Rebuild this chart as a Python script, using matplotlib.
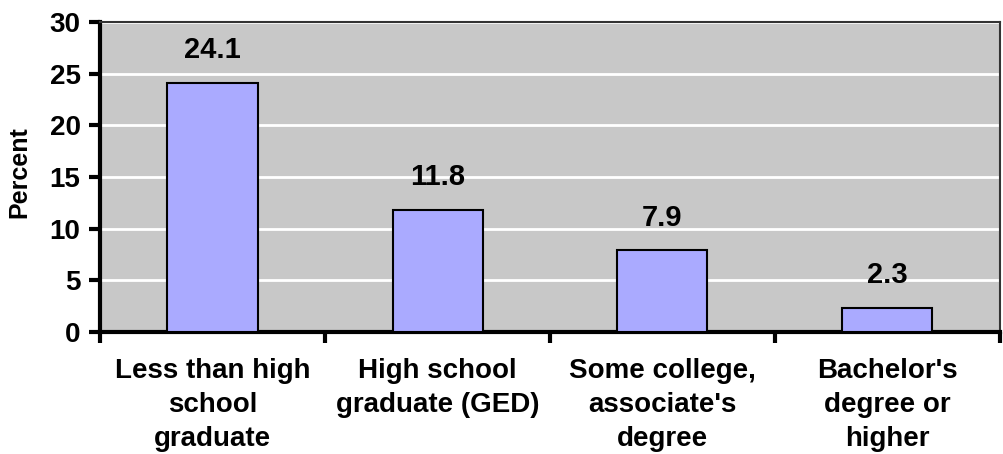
import matplotlib
matplotlib.use("Agg")
import numpy as np
import matplotlib.pyplot as plt

# Data
categories = ["Less than high\nschool\ngraduate", "High school\ngraduate (GED)",
              "Some college,\nassociate's\ndegree", "Bachelor's\ndegree or\nhigher"]
values = [24.1, 11.8, 7.9, 2.3]
yticks = [0, 5, 10, 15, 20, 25, 30]

plt.rcParams['font.family'] = ['Liberation Sans', 'DejaVu Sans']
plt.rcParams['font.weight'] = 'bold'

fig = plt.figure(figsize=(10.04, 4.54), dpi=100)
ax = fig.add_axes([100/1004, 1 - 332/454, 900/1004, 310/454])
ax.set_facecolor("#C8C8C8")

x = np.arange(len(values))
ax.bar(x, values, width=0.4, color="#AAAAFF", edgecolor="black", linewidth=1.5, zorder=3)
for xi, v in zip(x, values):
    ax.text(xi, v + 2.4, f"{v}", ha="center", va="baseline", fontsize=21, fontweight="bold")

ax.set_xlim(-0.5, len(values) - 0.5)
ax.set_ylim(0, 30)
ax.set_yticks(yticks)
ax.yaxis.grid(True, color="white", linewidth=2, zorder=0)
ax.set_axisbelow(True)

# category tick marks at the boundaries, labels centred under bars
ax.set_xticks(np.arange(len(values) + 1) - 0.5)
ax.set_xticklabels([])
ax.set_xticks(x, minor=True)
ax.set_xticklabels(categories, minor=True, fontsize=20, fontweight="bold", linespacing=1.38)
ax.tick_params(axis="x", which="minor", length=0, pad=19)
ax.tick_params(axis="x", which="major", length=8, width=3, direction="out")
ax.tick_params(axis="y", length=8, width=3, direction="out", labelsize=20, pad=6)
for lab in ax.get_yticklabels():
    lab.set_fontweight("bold")

ax.set_ylabel("Percent", fontsize=18, fontweight="bold")
ax.yaxis.set_label_coords(-0.076, 0.516)

for side in ["left", "bottom"]:
    ax.spines[side].set_linewidth(3)
    ax.spines[side].set_color("black")
for side in ["top", "right"]:
    ax.spines[side].set_linewidth(1.5)
    ax.spines[side].set_color("#333333")

fig.savefig("out.png", dpi=100)
